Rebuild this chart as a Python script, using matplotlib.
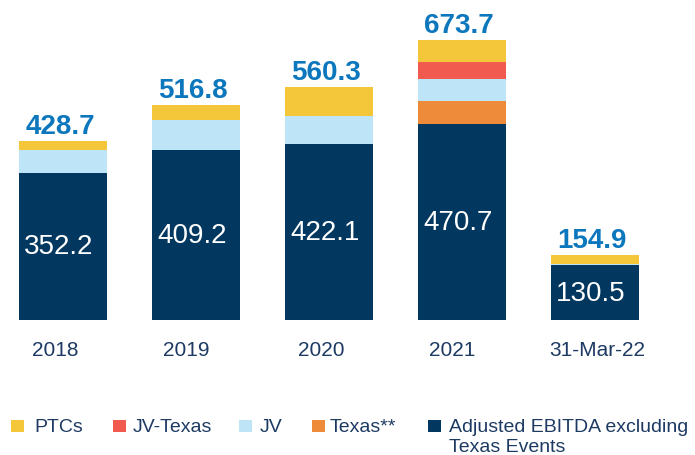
import numpy as np
import matplotlib
matplotlib.use('Agg')
import matplotlib.pyplot as plt
from matplotlib.patches import Rectangle

plt.rcParams['font.family'] = ['Liberation Sans', 'DejaVu Sans']

categories = ['2018', '2019', '2020', '2021', '31-Mar-22']
base = [352.2, 409.2, 422.1, 470.7, 130.5]
texas = [0, 0, 0, 56.1, 0]
jv = [56.5, 70.5, 68.3, 52.2, 2.4]
jv_texas = [0, 0, 0, 41.7, 0]
ptcs = [20.0, 37.1, 69.9, 53.0, 22.0]
totals = [428.7, 516.8, 560.3, 673.7, 154.9]

navy = '#02375f'
c_texas = '#ed8b3a'
c_jv = '#bee5f7'
c_jvt = '#f05a4f'
c_ptc = '#f4c73b'
txt = '#1d3a62'

W, H = 695, 456
fig = plt.figure(figsize=(W / 100, H / 100), dpi=100)
ax = fig.add_axes([16.45 / W, (H - 320.7) / H, 658.35 / W, 291 / H])

x = np.arange(len(categories))
bw = 0.662
bottom = np.zeros(len(categories))
for vals, col in [(base, navy), (texas, c_texas), (jv, c_jv), (jv_texas, c_jvt), (ptcs, c_ptc)]:
    ax.bar(x, vals, bw, bottom=bottom, color=col, linewidth=0)
    bottom += np.array(vals)

ax.set_xlim(-0.35, 4.6)
ax.set_ylim(0, 700)
ax.axis('off')

# white values inside the navy bars
for i, v in enumerate(base):
    ax.annotate(f'{v:.1f}', xy=(i, v / 2), xytext=(-4, 0), textcoords='offset pixels',
                ha='center', va='center', color='white', fontsize=20)

# totals on top
for i, t in enumerate(totals):
    ax.annotate(f'{t:.1f}', xy=(i, t), xytext=(-3, 8), textcoords='offset pixels',
                ha='center', va='baseline', color='#0c77bd', fontsize=20, fontweight='bold')

# category labels (slightly off-centre, as in the slide)
shift = [-8, -10, -8, -10, 2]
for i, c in enumerate(categories):
    ax.annotate(c, xy=(i, 0), xycoords=('data', 'axes fraction'), xytext=(shift[i], -35),
                textcoords='offset pixels', ha='center', va='baseline', color=txt, fontsize=15)

# legend drawn by hand so the square sits on the first line
leg_names = ['PTCs', 'JV-Texas', 'JV', 'Texas**', 'Adjusted EBITDA excluding\nTexas Events']
leg_cols = [c_ptc, c_jvt, c_jv, c_texas, navy]
sq_x = [11, 113, 239, 312, 428]
tx_x = [34, 133, 260, 330, 449]
for name, col, sx, tx in zip(leg_names, leg_cols, sq_x, tx_x):
    fig.add_artist(Rectangle((sx / W, 1 - 433 / H), 12.5 / W, 12.5 / H,
                             transform=fig.transFigure, color=col, linewidth=0))
    for k, line in enumerate(name.split('\n')):
        fig.text(tx / W, 1 - (432.5 + 19.5 * k) / H, line, ha='left', va='baseline',
                 color=txt, fontsize=14)

fig.savefig('out.png', dpi=100)
